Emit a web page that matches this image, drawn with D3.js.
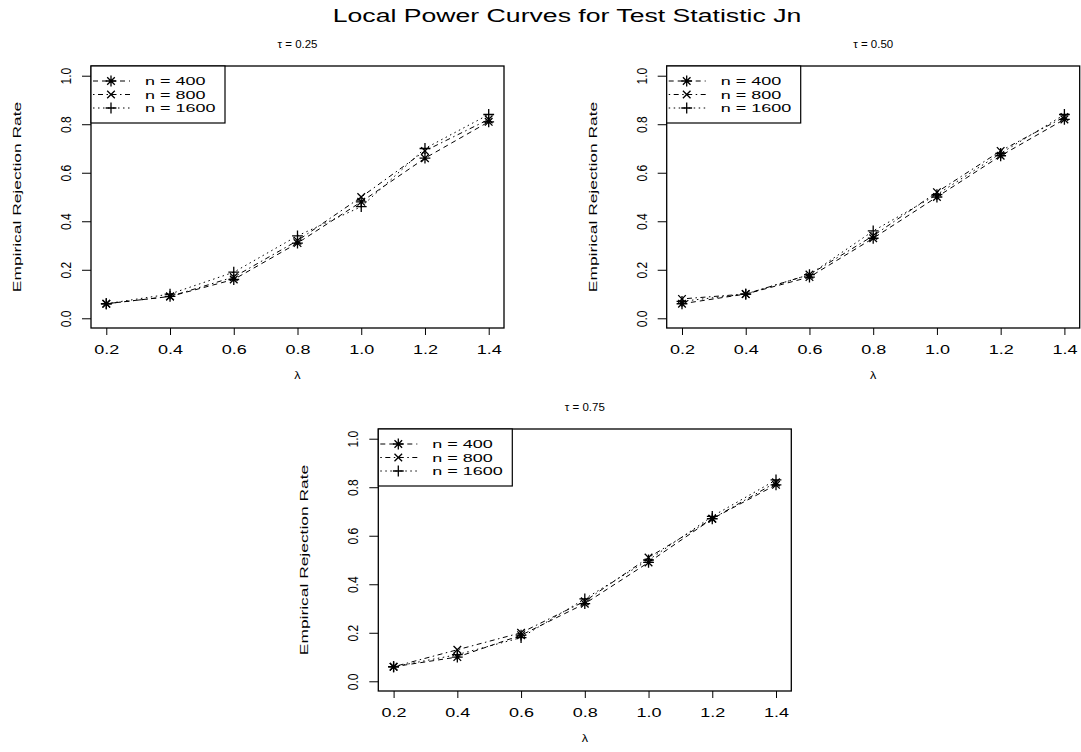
<!DOCTYPE html>
<html>
<head>
<meta charset="utf-8">
<script src="https://cdn.jsdelivr.net/npm/d3@7"></script>
<style>
  html, body { margin: 0; padding: 0; background: #fff; }
  svg { display: block; font-family: "Liberation Sans", Arial, Helvetica, sans-serif; }
</style>
</head>
<body>
<svg id="chart" width="1081" height="752"></svg>
<script>
// ---------------- data ----------------
const lambdaValues = [0.2, 0.4, 0.6, 0.8, 1.0, 1.2, 1.4];
const xTickValues = [0.2, 0.4, 0.6, 0.8, 1.0, 1.2, 1.4];
const yTickValues = [0.0, 0.2, 0.4, 0.6, 0.8, 1.0];
const seriesNames = ["n = 400", "n = 800", "n = 1600"];
const panelTitles = ["\u03c4 = 0.25", "\u03c4 = 0.50", "\u03c4 = 0.75"];
const mainTitle = "Local Power Curves for Test Statistic Jn";
const xTitle = "\u03bb";
const yTitle = "Empirical Rejection Rate";

// tau = 0.25
const tau25_n400  = [0.06, 0.09, 0.16, 0.31, 0.48, 0.66, 0.81];
const tau25_n800  = [0.06, 0.09, 0.17, 0.32, 0.50, 0.69, 0.82];
const tau25_n1600 = [0.06, 0.10, 0.19, 0.34, 0.46, 0.70, 0.84];
// tau = 0.50
const tau50_n400  = [0.06, 0.10, 0.17, 0.33, 0.50, 0.67, 0.82];
const tau50_n800  = [0.08, 0.10, 0.18, 0.34, 0.52, 0.69, 0.83];
const tau50_n1600 = [0.07, 0.10, 0.18, 0.36, 0.51, 0.68, 0.84];
// tau = 0.75
const tau75_n400  = [0.06, 0.10, 0.19, 0.32, 0.49, 0.67, 0.81];
const tau75_n800  = [0.06, 0.13, 0.20, 0.33, 0.51, 0.67, 0.82];
const tau75_n1600 = [0.06, 0.11, 0.18, 0.34, 0.50, 0.68, 0.83];

// ---------------- layout / style ----------------
const svg = d3.select("#chart");
const box = { left: 91, right: 504, top: 66, bottom: 328 };
const panelOffsets = [[0, 0], [575.7, 0], [287.3, 363]];
const dashStyles = ["5,4", "1.5,3.5,5,3.5", "1.5,3.5"];
const markerTypes = ["asterisk", "times", "plus"];

function markerPath(type) {
  const r = 3.8, p = 5.4;
  const times = `M${-r},${-r}L${r},${r}M${-r},${r}L${r},${-r}`;
  const plus = `M${-p},0L${p},0M0,${-p}L0,${p}`;
  if (type === "asterisk") return times + plus;
  if (type === "times") return times;
  return plus;
}

const x = d3.scaleLinear().domain([0.152, 1.448]).range([box.left, box.right]);
const y = d3.scaleLinear().domain([-0.04, 1.04]).range([box.bottom, box.top]);

// main title
svg.append("text")
  .attr("transform", "translate(567,22) scale(1.44,1)")
  .attr("text-anchor", "middle")
  .attr("font-size", 18.5)
  .attr("fill", "#000")
  .text(mainTitle);

function drawPanel(idx, seriesList) {
  const [ox, oy] = panelOffsets[idx];
  const g = svg.append("g").attr("transform", `translate(${ox},${oy})`);

  // panel title
  g.append("text")
    .attr("transform", `translate(${(box.left + box.right) / 2},48) scale(1.15,1)`)
    .attr("text-anchor", "middle")
    .attr("font-size", 10)
    .text(panelTitles[idx]);

  // x axis
  const xa = g.append("g")
    .attr("transform", `translate(0,${box.bottom})`)
    .call(d3.axisBottom(x).tickValues(xTickValues).tickSize(7).tickSizeOuter(0)
      .tickFormat(d3.format(".1f")));
  xa.select(".domain").remove();
  xa.selectAll(".tick line").attr("stroke", "#000").attr("stroke-width", 1);
  xa.selectAll(".tick text")
    .attr("y", null).attr("dy", null)
    .attr("transform", "translate(0,26) scale(1.5,1)")
    .attr("font-size", 12)
    .attr("font-family", null)
    .attr("fill", "#000");

  // y axis
  const ya = g.append("g")
    .attr("transform", `translate(${box.left},0)`)
    .call(d3.axisLeft(y).tickValues(yTickValues).tickSize(9).tickSizeOuter(0)
      .tickFormat(d3.format(".1f")));
  ya.select(".domain").remove();
  ya.selectAll(".tick line").attr("stroke", "#000").attr("stroke-width", 1);
  ya.selectAll(".tick text")
    .attr("x", null).attr("dy", null)
    .attr("text-anchor", "middle")
    .attr("transform", "translate(-20,0) scale(1.15,1) rotate(-90)")
    .attr("font-size", 12)
    .attr("font-family", null)
    .attr("fill", "#000");

  // axis titles
  g.append("text")
    .attr("transform", `translate(${(box.left + box.right) / 2},379) scale(1.2,1)`)
    .attr("text-anchor", "middle")
    .attr("font-size", 10.5)
    .text(xTitle);
  g.append("text")
    .attr("transform", `translate(21,${(box.top + box.bottom) / 2}) scale(0.85,1.45) rotate(-90)`)
    .attr("text-anchor", "middle")
    .attr("font-size", 12)
    .text(yTitle);

  // series
  const line = d3.line().x((d, i) => x(lambdaValues[i])).y(d => y(d));
  seriesList.forEach((vals, s) => {
    g.append("path")
      .attr("d", line(vals))
      .attr("fill", "none")
      .attr("stroke", "#000")
      .attr("stroke-width", 1)
      .attr("stroke-dasharray", dashStyles[s]);
    g.selectAll(null).data(vals).enter().append("path")
      .attr("transform", (d, i) => `translate(${x(lambdaValues[i])},${y(d)})`)
      .attr("d", markerPath(markerTypes[s]))
      .attr("fill", "none")
      .attr("stroke", "#000")
      .attr("stroke-width", 1.3);
  });

  // plot box
  g.append("rect")
    .attr("x", box.left).attr("y", box.top)
    .attr("width", box.right - box.left).attr("height", box.bottom - box.top)
    .attr("fill", "none").attr("stroke", "#000").attr("stroke-width", 1.3);

  // legend
  const lg = g.append("g");
  lg.append("rect")
    .attr("x", box.left).attr("y", box.top)
    .attr("width", 134).attr("height", 57)
    .attr("fill", "#fff").attr("stroke", "#000").attr("stroke-width", 1.2);
  const rowY = [81, 94.5, 108];
  seriesNames.forEach((name, s) => {
    lg.append("line")
      .attr("x1", box.left + 2).attr("x2", box.left + 39)
      .attr("y1", rowY[s]).attr("y2", rowY[s])
      .attr("stroke", "#000").attr("stroke-width", 1)
      .attr("stroke-dasharray", dashStyles[s]);
    lg.append("path")
      .attr("transform", `translate(${box.left + 20},${rowY[s]})`)
      .attr("d", markerPath(markerTypes[s]))
      .attr("fill", "none").attr("stroke", "#000").attr("stroke-width", 1.3);
    lg.append("text")
      .attr("transform", `translate(${box.left + 54},${rowY[s] + 4.2}) scale(1.55,1)`)
      .attr("font-size", 11.6)
      .text(name);
  });
}

drawPanel(0, [tau25_n400, tau25_n800, tau25_n1600]);
drawPanel(1, [tau50_n400, tau50_n800, tau50_n1600]);
drawPanel(2, [tau75_n400, tau75_n800, tau75_n1600]);
</script>
</body>
</html>
